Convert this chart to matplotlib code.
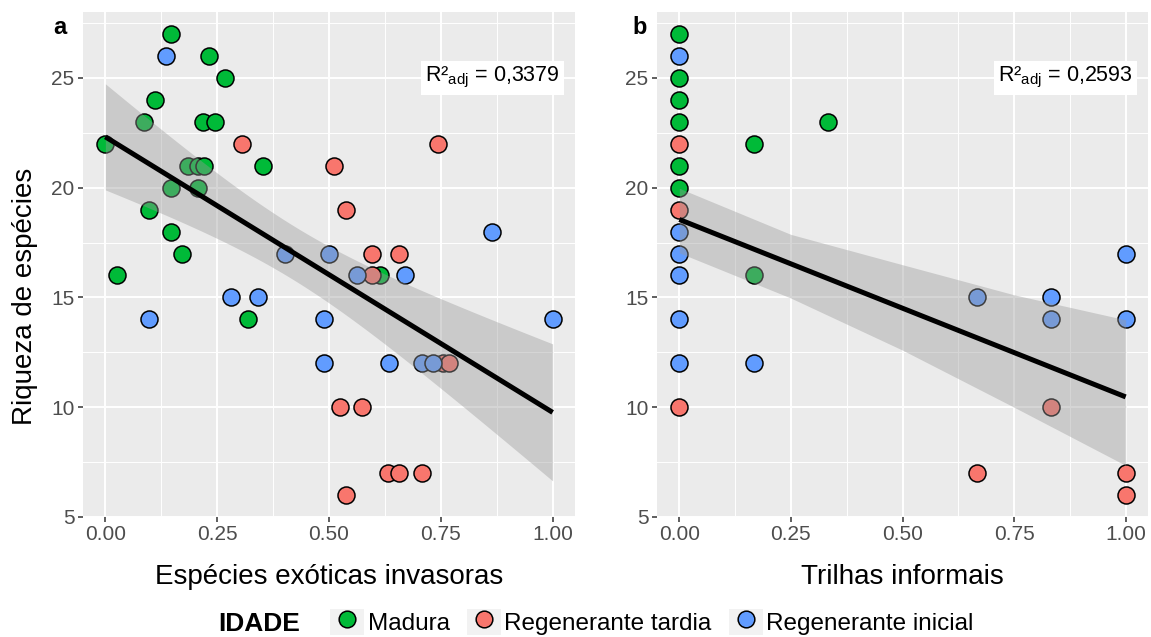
import numpy as np
import matplotlib.pyplot as plt
from matplotlib.patches import Rectangle
from matplotlib.lines import Line2D

plt.rcParams['font.family'] = ['Liberation Sans', 'DejaVu Sans']
plt.rcParams['mathtext.fontset'] = 'custom'
plt.rcParams['mathtext.rm'] = 'Liberation Sans'

groups = ["Madura", "Regenerante tardia", "Regenerante inicial"]
colors = ["#00BA38", "#F8766D", "#619CFF"]

# panel a - especies exoticas invasoras
a_mad_x = [0.147, 0.232, 0.268, 0.111, 0.086, 0.219, 0.245, 0.0, 0.184, 0.208,
           0.221, 0.353, 0.147, 0.208, 0.098, 0.147, 0.172, 0.026, 0.613, 0.318]
a_mad_y = [27, 26, 25, 24, 23, 23, 23, 22, 21, 21, 21, 21, 20, 20, 19, 18, 17, 16, 16, 14]
a_tar_x = [0.305, 0.744, 0.512, 0.537, 0.597, 0.657, 0.597, 0.755, 0.768,
           0.525, 0.573, 0.633, 0.657, 0.707, 0.537]
a_tar_y = [22, 22, 21, 19, 17, 17, 16, 12, 12, 10, 10, 7, 7, 7, 6]
a_ini_x = [0.135, 0.865, 0.402, 0.50, 0.562, 0.670, 0.281, 0.342, 0.098, 0.488,
           1.0, 0.488, 0.634, 0.707, 0.733]
a_ini_y = [26, 18, 17, 17, 16, 16, 15, 15, 14, 14, 14, 12, 12, 12, 12]

# panel b - trilhas informais
b_mad_x = [0, 0, 0, 0, 0, 0, 1/6, 1/6, 1/3]
b_mad_y = [27, 25, 24, 23, 21, 20, 22, 16, 23]
b_tar_x = [0, 0, 0, 5/6, 2/3, 1, 1]
b_tar_y = [22, 19, 10, 10, 7, 7, 6]
b_ini_x = [0, 0, 0, 0, 0, 0, 1/6, 2/3, 5/6, 5/6, 1, 1]
b_ini_y = [26, 18, 17, 16, 14, 12, 12, 15, 15, 14, 17, 14]

b_fit_x = [0, 0.25, 0.5, 0.75, 1.0]
b_fit_y = [18.55, 16.53, 14.51, 12.49, 10.47]
b_fit_lo = [17.03, 14.97, 12.6, 10.0, 7.35]
b_fit_hi = [19.97, 17.87, 16.49, 15.12, 13.98]

r2_text = ["0,3379", "0,2593"]

fig = plt.figure(figsize=(11.51, 6.37), dpi=100)
axA = fig.add_axes([83/1151, 120/637, 492/1151, 505/637])
axB = fig.add_axes([657/1151, 120/637, 491/1151, 505/637])


def style(ax):
    ax.set_facecolor('#EBEBEB')
    for s in ax.spines.values():
        s.set_visible(False)
    ax.set_xlim(-0.05, 1.05)
    ax.set_ylim(5, 28)
    ax.set_xticks([0, 0.25, 0.5, 0.75, 1.0])
    ax.set_xticklabels(["0.00", "0.25", "0.50", "0.75", "1.00"])
    ax.set_xticks([0.125, 0.375, 0.625, 0.875], minor=True)
    ax.set_yticks([5, 10, 15, 20, 25])
    ax.set_yticks([7.5, 12.5, 17.5, 22.5, 27.5], minor=True)
    ax.set_axisbelow(True)
    ax.grid(which='major', color='white', lw=1.4)
    ax.grid(which='minor', color='white', lw=0.7)
    ax.tick_params(which='major', length=3.6, width=1.1, color='#333333',
                   labelsize=15, labelcolor='#4D4D4D', pad=2.5)
    ax.tick_params(which='minor', length=0)


for ax in (axA, axB):
    style(ax)

for ax, sets in ((axA, [(a_mad_x, a_mad_y), (a_tar_x, a_tar_y), (a_ini_x, a_ini_y)]),
                 (axB, [(b_mad_x, b_mad_y), (b_tar_x, b_tar_y), (b_ini_x, b_ini_y)])):
    for (x, y), c in zip(sets, colors):
        ax.scatter(x, y, s=150, c=c, edgecolors='black', linewidths=1.1, zorder=2)

# lm + IC 95% para a
xa = np.array(a_mad_x + a_tar_x + a_ini_x)
ya = np.array(a_mad_y + a_tar_y + a_ini_y, dtype=float)
n = len(xa)
slope, icpt = np.polyfit(xa, ya, 1)
res = ya - (icpt + slope * xa)
s = np.sqrt(np.sum(res**2) / (n - 2))
sxx = np.sum((xa - xa.mean())**2)
xs = np.linspace(0, 1, 100)
fit = icpt + slope * xs
se = s * np.sqrt(1/n + (xs - xa.mean())**2 / sxx)
tval = 2.0106
axA.fill_between(xs, fit - tval*se, fit + tval*se, color='#999999', alpha=0.4, lw=0, zorder=3)
axA.plot(xs, fit, color='black', lw=3.6, zorder=4, solid_capstyle='butt')

axB.fill_between(b_fit_x, b_fit_lo, b_fit_hi, color='#999999', alpha=0.4, lw=0, zorder=3)
axB.plot(b_fit_x, b_fit_y, color='black', lw=3.6, zorder=4, solid_capstyle='butt')

for ax, t in zip((axA, axB), r2_text):
    ax.text(0.865, 25, "R²$_{\\mathregular{adj}}$ = " + t, fontsize=15.5, ha='center', va='center',
            zorder=6, bbox=dict(facecolor='white', edgecolor='none', pad=3))

axA.set_xlabel("Espécies exóticas invasoras", fontsize=20)
axB.set_xlabel("Trilhas informais", fontsize=20)
for ax in (axA, axB):
    ax.xaxis.label.set_verticalalignment('center')
    ax.xaxis.set_label_coords(0.5, -0.119)
axA.set_ylabel("Riqueza de espécies", fontsize=20)
axA.yaxis.label.set_verticalalignment('center')
axA.yaxis.set_label_coords(-0.118, 0.436)

fig.text(60/1151, 1 - 27/637, "a", fontsize=17, fontweight='bold', ha='center', va='center')
fig.text(640/1151, 1 - 27/637, "b", fontsize=17, fontweight='bold', ha='center', va='center')

# legenda
handles = []
for c in colors:
    key = Rectangle((0, 0), 1, 1, facecolor='#F2F2F2', edgecolor='none')
    pt = Line2D([], [], ls='none', marker='o', markersize=12, markerfacecolor=c,
                markeredgecolor='black', markeredgewidth=1.1)
    handles.append((key, pt))
fig.text(218/1151, (637-624)/637, "IDADE", fontsize=19, fontweight='bold', ha='left', va='center')
fig.legend(handles, groups, loc='center left', bbox_to_anchor=(330/1151, (637-622)/637),
           ncol=3, frameon=False, fontsize=17.5, handlelength=1.4, handleheight=1.3,
           handletextpad=0.15, columnspacing=0.7, borderpad=0, borderaxespad=0)

fig.savefig("out.png", dpi=100)
